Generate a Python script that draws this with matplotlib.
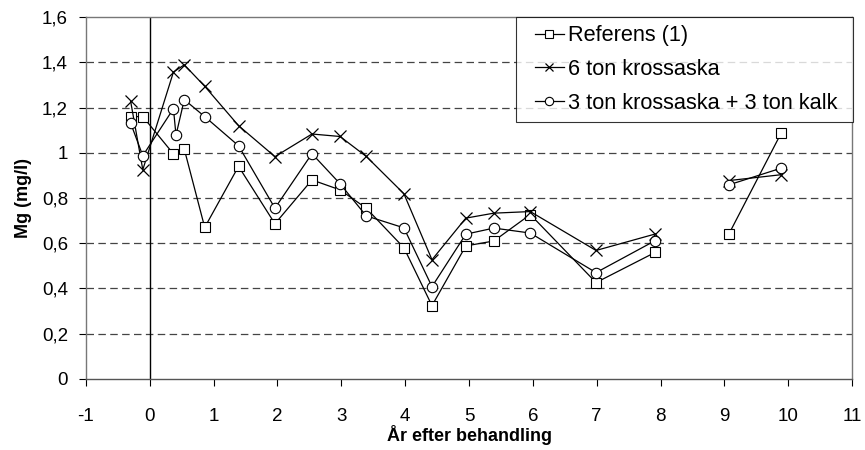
import matplotlib
matplotlib.use("Agg")
import matplotlib.pyplot as plt
from matplotlib.ticker import FuncFormatter, MultipleLocator
from matplotlib.legend_handler import HandlerLine2D
import numpy as np

plt.rcParams['font.family'] = ['Liberation Sans', 'DejaVu Sans']
plt.rcParams['axes.unicode_minus'] = False

nan = np.nan

# Referens (1) - squares
ref_x = [-0.3, -0.11, 0.37, 0.54, 0.86, 1.39, 1.96, 2.54, 2.98, 3.39, 3.98,
         4.42, 4.95, 5.39, 5.96, 6.99, 7.92, nan, 9.07, 9.89]
ref_y = [1.16, 1.16, 0.995, 1.016, 0.67, 0.94, 0.686, 0.88, 0.836, 0.755, 0.58,
         0.324, 0.588, 0.61, 0.727, 0.426, 0.56, nan, 0.64, 1.087]

# 6 ton krossaska - crosses
ash_x = [-0.3, -0.11, 0.37, 0.54, 0.86, 1.39, 1.96, 2.54, 2.98, 3.39, 3.98,
         4.42, 4.95, 5.39, 5.96, 6.99, 7.92, nan, 9.07, 9.89]
ash_y = [1.227, 0.925, 1.357, 1.389, 1.294, 1.12, 0.983, 1.083, 1.072, 0.984, 0.819,
         0.527, 0.711, 0.733, 0.74, 0.568, 0.641, nan, 0.877, 0.903]

# 3 ton krossaska + 3 ton kalk - circles
mix_x = [-0.3, -0.11, 0.37, 0.41, 0.54, 0.86, 1.39, 1.96, 2.54, 2.98, 3.39, 3.98,
         4.42, 4.95, 5.39, 5.96, 6.99, 7.92, nan, 9.07, 9.89]
mix_y = [1.131, 0.987, 1.195, 1.078, 1.235, 1.16, 1.031, 0.755, 0.996, 0.863, 0.721, 0.668,
         0.408, 0.64, 0.667, 0.645, 0.47, 0.612, nan, 0.858, 0.932]

labels = ["Referens (1)", "6 ton krossaska", "3 ton krossaska + 3 ton kalk"]
grid_levels = [0.2, 0.4, 0.6, 0.8, 1.0, 1.2, 1.4]

fig = plt.figure(figsize=(8.65, 4.5), dpi=100)
ax = fig.add_axes([0.0994, 0.158, 0.8856, 0.804])

# dashed grid
for yv in grid_levels:
    ax.axhline(yv, color='#444444', lw=0.9, ls=(0, (6, 3.5)), zorder=1)
ax.axvline(0, color='black', lw=1.0, zorder=2)

l1, = ax.plot(ref_x, ref_y, color='black', lw=0.9, marker='s', ms=7,
              mfc='white', mec='black', mew=0.8, label=labels[0], zorder=3)
l2, = ax.plot(ash_x, ash_y, color='black', lw=0.9, marker='x', ms=8,
              mec='black', mew=0.9, label=labels[1], zorder=3)
l3, = ax.plot(mix_x, mix_y, color='black', lw=0.9, marker='o', ms=7.5,
              mfc='white', mec='black', mew=0.8, label=labels[2], zorder=4)

ax.set_xlim(-1, 11)
ax.set_ylim(0, 1.6)
ax.xaxis.set_major_locator(MultipleLocator(1))
ax.yaxis.set_major_locator(MultipleLocator(0.2))
ax.yaxis.set_major_formatter(FuncFormatter(lambda v, p: f"{v:.1f}".rstrip('0').rstrip('.').replace('.', ',')))
ax.tick_params(axis='both', direction='out', length=5, width=0.8, labelsize=13.5, colors='black')
ax.tick_params(axis='x', pad=16)
ax.tick_params(axis='y', pad=8)

for s in ax.spines.values():
    s.set_color('#777777')
    s.set_linewidth(1.0)
ax.spines['bottom'].set_color('#555555')

ax.set_xlabel("År efter behandling", fontsize=13, fontweight='bold', labelpad=0)
ax.set_ylabel("Mg (mg/l)", fontsize=13, fontweight='bold', labelpad=7)

hmap = {l: HandlerLine2D(xpad=0.5) for l in (l1, l2, l3)}
leg = ax.legend(loc='upper left', bbox_to_anchor=(0.5614, 0.5, 0.4396, 0.5),
                mode='expand', fontsize=15.7, handler_map=hmap,
                frameon=True, fancybox=False, edgecolor='black', borderaxespad=0,
                handlelength=1.8, handletextpad=0.2, labelspacing=0.58,
                borderpad=0.38, markerscale=0.8)
leg.get_frame().set_linewidth(0.8)
leg.set_zorder(10)

fig.savefig("out.png", dpi=100)
